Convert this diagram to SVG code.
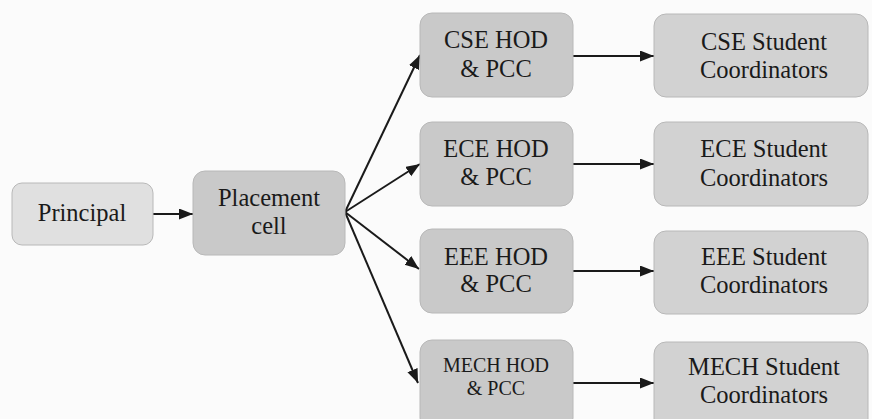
<svg xmlns="http://www.w3.org/2000/svg" width="872" height="419" viewBox="0 0 872 419" font-family="Liberation Serif">
<defs>
<marker id="arr" markerUnits="userSpaceOnUse" markerWidth="15" markerHeight="12" refX="14" refY="5.5" orient="auto">
<path d="M0,0 L14,5.5 L0,11 z" fill="#1a1a1a"/>
</marker>
</defs>
<style>
.box{stroke:#b8b8b8;stroke-width:1}
.light{fill:#e0e0e0}
.mid{fill:#c9c9c9}
.stu{fill:#d2d2d2}
.t{font-size:24.5px;fill:#1a1a1a;text-anchor:middle}
.small{font-size:20px}
.conn{stroke:#1a1a1a;stroke-width:2;fill:none;marker-end:url(#arr)}
</style>
<rect width="872" height="419" fill="#fbfbfb"/>
<g id="connectors">
<line class="conn" x1="153" y1="214" x2="193" y2="214"/>
<line class="conn" x1="345" y1="212" x2="420" y2="55"/>
<line class="conn" x1="345" y1="212" x2="420" y2="164"/>
<line class="conn" x1="345" y1="212" x2="419" y2="269"/>
<line class="conn" x1="345" y1="212" x2="418" y2="383"/>
<line class="conn" x1="573" y1="56" x2="654" y2="56"/>
<line class="conn" x1="573" y1="164" x2="654" y2="164"/>
<line class="conn" x1="573" y1="271" x2="654" y2="271"/>
<line class="conn" x1="573" y1="383" x2="654" y2="383"/>
</g>
<g id="principal">
<rect class="box light" x="12" y="183" width="141" height="62" rx="10"/>
<text class="t" font-family="Liberation Serif" x="82" y="221">Principal</text>
</g>
<g id="placement">
<rect class="box mid" x="193" y="171" width="152" height="84" rx="12"/>
<text class="t" font-family="Liberation Serif" x="269" y="206">Placement</text>
<text class="t" font-family="Liberation Serif" x="269" y="234">cell</text>
</g>
<g id="cse-hod">
<rect class="box mid" x="420" y="13" width="153" height="84" rx="12"/>
<text class="t" font-family="Liberation Serif" x="496" y="48">CSE HOD</text>
<text class="t" font-family="Liberation Serif" x="496" y="77">&amp; PCC</text>
</g>
<g id="ece-hod">
<rect class="box mid" x="420" y="122" width="153" height="84" rx="12"/>
<text class="t" font-family="Liberation Serif" x="496" y="157">ECE HOD</text>
<text class="t" font-family="Liberation Serif" x="496" y="185">&amp; PCC</text>
</g>
<g id="eee-hod">
<rect class="box mid" x="420" y="229" width="153" height="84" rx="12"/>
<text class="t" font-family="Liberation Serif" x="496" y="265">EEE HOD</text>
<text class="t" font-family="Liberation Serif" x="496" y="292">&amp; PCC</text>
</g>
<g id="mech-hod">
<rect class="box mid" x="420" y="340" width="153" height="90" rx="12"/>
<text class="t small" font-family="Liberation Serif" x="496" y="372">MECH HOD</text>
<text class="t small" font-family="Liberation Serif" x="496" y="395">&amp; PCC</text>
</g>
<g id="cse-stu">
<rect class="box stu" x="654" y="14" width="214" height="83" rx="12"/>
<text class="t" font-family="Liberation Serif" x="764" y="50">CSE Student</text>
<text class="t" font-family="Liberation Serif" x="764" y="78">Coordinators</text>
</g>
<g id="ece-stu">
<rect class="box stu" x="654" y="122" width="214" height="84" rx="12"/>
<text class="t" font-family="Liberation Serif" x="764" y="157">ECE Student</text>
<text class="t" font-family="Liberation Serif" x="764" y="186">Coordinators</text>
</g>
<g id="eee-stu">
<rect class="box stu" x="654" y="231" width="214" height="83" rx="12"/>
<text class="t" font-family="Liberation Serif" x="764" y="265">EEE Student</text>
<text class="t" font-family="Liberation Serif" x="764" y="293">Coordinators</text>
</g>
<g id="mech-stu">
<rect class="box stu" x="654" y="342" width="214" height="90" rx="12"/>
<text class="t" font-family="Liberation Serif" x="764" y="375">MECH Student</text>
<text class="t" font-family="Liberation Serif" x="764" y="403">Coordinators</text>
</g>
</svg>
